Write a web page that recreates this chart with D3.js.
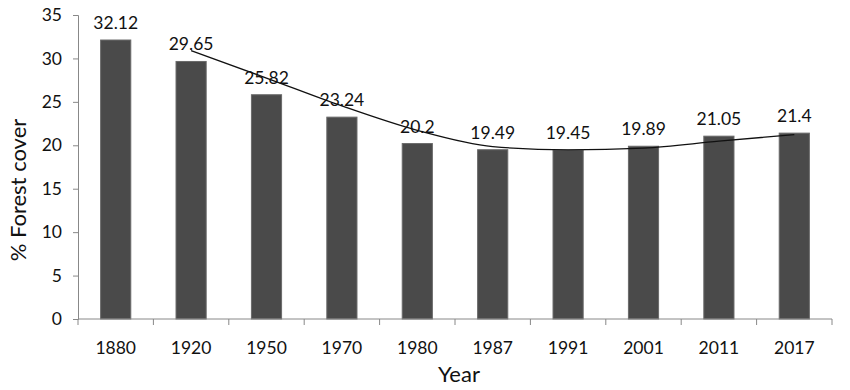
<!DOCTYPE html>
<html>
<head>
<meta charset="utf-8">
<script src="https://cdn.jsdelivr.net/npm/d3@7"></script>
<style>
  body { margin: 0; background: #fff; }
  text { font-family: Lato, "Open Sans", sans-serif; fill: #111; }
</style>
</head>
<body>
<script>
// values
const years = ['1880', '1920', '1950', '1970', '1980', '1987', '1991', '2001', '2011', '2017'];
const cover = [32.12, 29.65, 25.82, 23.24, 20.2, 19.49, 19.45, 19.89, 21.05, 21.4];
// trend line (2 period moving average), starts at 1920
const trendYears = ['1920', '1950', '1970', '1980', '1987', '1991', '2001', '2011', '2017'];
const trend = [30.89, 27.74, 24.53, 21.72, 19.85, 19.47, 19.67, 20.47, 21.23];
const yTicks = [0, 5, 10, 15, 20, 25, 30, 35];

const W = 850, H = 390;
const m = {top: 15, right: 18, bottom: 71, left: 78};

const svg = d3.select('body').append('svg')
  .attr('width', W).attr('height', H);

const g = svg.append('g')
  .attr('transform', `translate(${m.left},${m.top})`);

const w = W - m.left - m.right, h = H - m.top - m.bottom;

const x = d3.scaleBand().domain(years).range([0, w])
  .paddingInner(0.6).paddingOuter(0.3);
const y = d3.scaleLinear().domain([0, 35]).range([h, 0]);

// bars
g.selectAll('rect.bar').data(cover).join('rect')
  .attr('class', 'bar')
  .attr('x', (d, i) => x(years[i]))
  .attr('width', x.bandwidth())
  .attr('y', d => y(d))
  .attr('height', d => h - y(d))
  .attr('fill', '#4a4a4a')
  .attr('stroke', '#6a6a6a')
  .attr('stroke-width', 1);

// trend line
const line = d3.line()
  .x((d, i) => x(trendYears[i]) + x.bandwidth() / 2)
  .y(d => y(d))
  .curve(d3.curveMonotoneX);
g.append('path').datum(trend)
  .attr('d', line)
  .attr('fill', 'none')
  .attr('stroke', '#111')
  .attr('stroke-width', 1.3);

// value labels
g.selectAll('text.val').data(cover).join('text')
  .attr('class', 'val')
  .attr('x', (d, i) => x(years[i]) + x.bandwidth() / 2)
  .attr('y', d => y(d) - 11)
  .attr('text-anchor', 'middle')
  .style('font-size', '17.5px')
  .text(d => d);

// y axis
const ya = g.append('g')
  .call(d3.axisLeft(y).tickValues(yTicks).tickSize(5).tickPadding(11));
ya.select('.domain').attr('stroke', '#888');
ya.selectAll('.tick line').attr('stroke', '#888');
ya.selectAll('.tick text').style('font-size', '17.5px').style('font-family', 'Lato, sans-serif').attr('fill', '#111');

// x axis: ticks between categories
const xa = g.append('g').attr('transform', `translate(0,${h})`);
xa.append('line').attr('x1', 0).attr('x2', w).attr('stroke', '#888');
const bounds = years.map(d => x(d) - x.step() * 0.3).concat([w]);
xa.selectAll('line.tk').data(bounds).join('line')
  .attr('class', 'tk')
  .attr('x1', d => d).attr('x2', d => d)
  .attr('y1', 0).attr('y2', 6)
  .attr('stroke', '#888');
xa.selectAll('text').data(years).join('text')
  .attr('x', d => x(d) + x.bandwidth() / 2)
  .attr('y', 35)
  .attr('text-anchor', 'middle')
  .style('font-size', '17.5px')
  .text(d => d);

// axis titles
svg.append('text')
  .attr('x', m.left + w / 2 + 4).attr('y', 382)
  .attr('text-anchor', 'middle')
  .style('font-size', '22px')
  .text('Year');
svg.append('text')
  .attr('transform', 'translate(26,190) rotate(-90)')
  .attr('text-anchor', 'middle')
  .style('font-size', '22px')
  .text('% Forest cover');
</script>
</body>
</html>
